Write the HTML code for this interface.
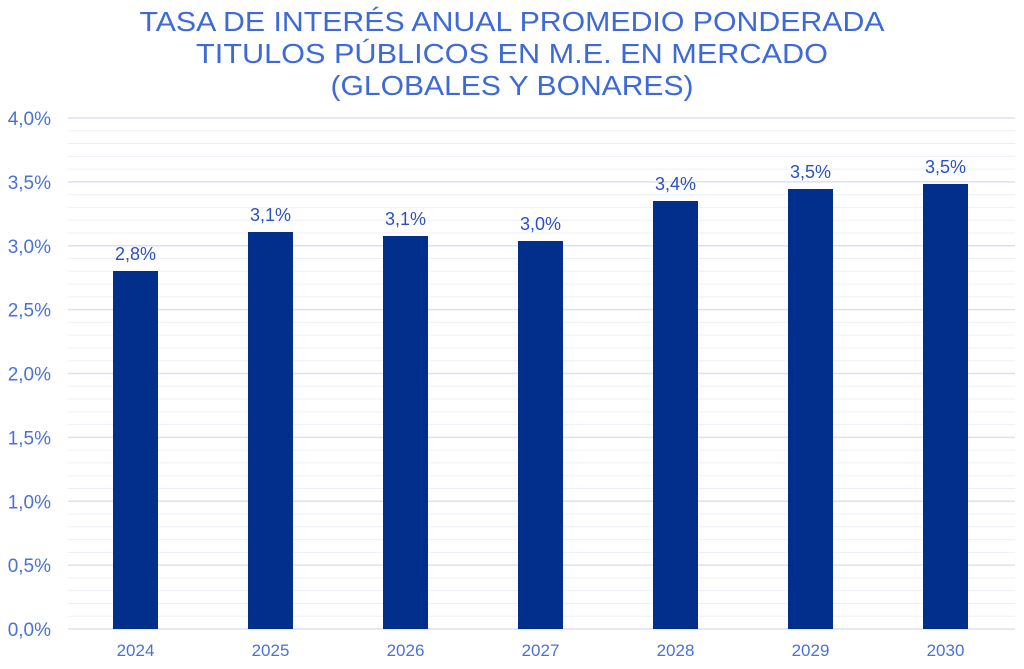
<!DOCTYPE html>
<html><head><meta charset="utf-8"><style>
body{margin:0;background:#fff;width:1024px;height:664px;overflow:hidden;font-family:"Liberation Sans",sans-serif}
</style></head><body>
<svg width="1024" height="664" xmlns="http://www.w3.org/2000/svg" font-family="Liberation Sans, sans-serif">
<g fill="#3d6ad6" font-size="28" text-anchor="middle">
<text x="512" y="31" textLength="745" lengthAdjust="spacingAndGlyphs">TASA DE INTERÉS ANUAL PROMEDIO PONDERADA</text>
<text x="512" y="63" textLength="632" lengthAdjust="spacingAndGlyphs">TITULOS PÚBLICOS EN M.E. EN MERCADO</text>
<text x="512" y="95" textLength="363" lengthAdjust="spacingAndGlyphs">(GLOBALES Y BONARES)</text>
</g>
<g id="grid"></g>
<g fill="#4a72d4" font-size="19" text-anchor="end" id="yl"></g>
<g id="bars"></g>
<script>
var ns="http://www.w3.org/2000/svg";
function el(p,t,a,tx){var e=document.createElementNS(ns,t);for(var k in a)e.setAttribute(k,a[k]);if(tx)e.textContent=tx;document.getElementById(p).appendChild(e);}
var y0=629,s=(629-118)/4;
for(var i=0;i<=40;i++){var y=y0-i*s/10;el("grid","line",{x1:68,x2:1015,y1:y,y2:y,stroke:i%5==0?"#dde0f3":"#eef0f8","stroke-width":i%5==0?1.5:1});}
for(var i=0;i<=8;i++){var y=y0-i*s/2;el("yl","text",{x:51,y:y+7},(i/2).toFixed(1).replace(".",",")+"%");}
var tops=[271,232,236,241,201,189,184],lab=["2,8%","3,1%","3,1%","3,0%","3,4%","3,5%","3,5%"];
for(var j=0;j<7;j++){var c=135.5+135*j;
el("bars","rect",{x:c-22.5,y:tops[j],width:45,height:y0-tops[j],fill:"#032f8c"});
el("bars","text",{x:c,y:tops[j]-11,"text-anchor":"middle","font-size":18,fill:"#2a52c0"},lab[j]);
el("bars","text",{x:c,y:656,"text-anchor":"middle","font-size":17,fill:"#4a72d4"},String(2024+j));}
</script>
</svg>
</body></html>
